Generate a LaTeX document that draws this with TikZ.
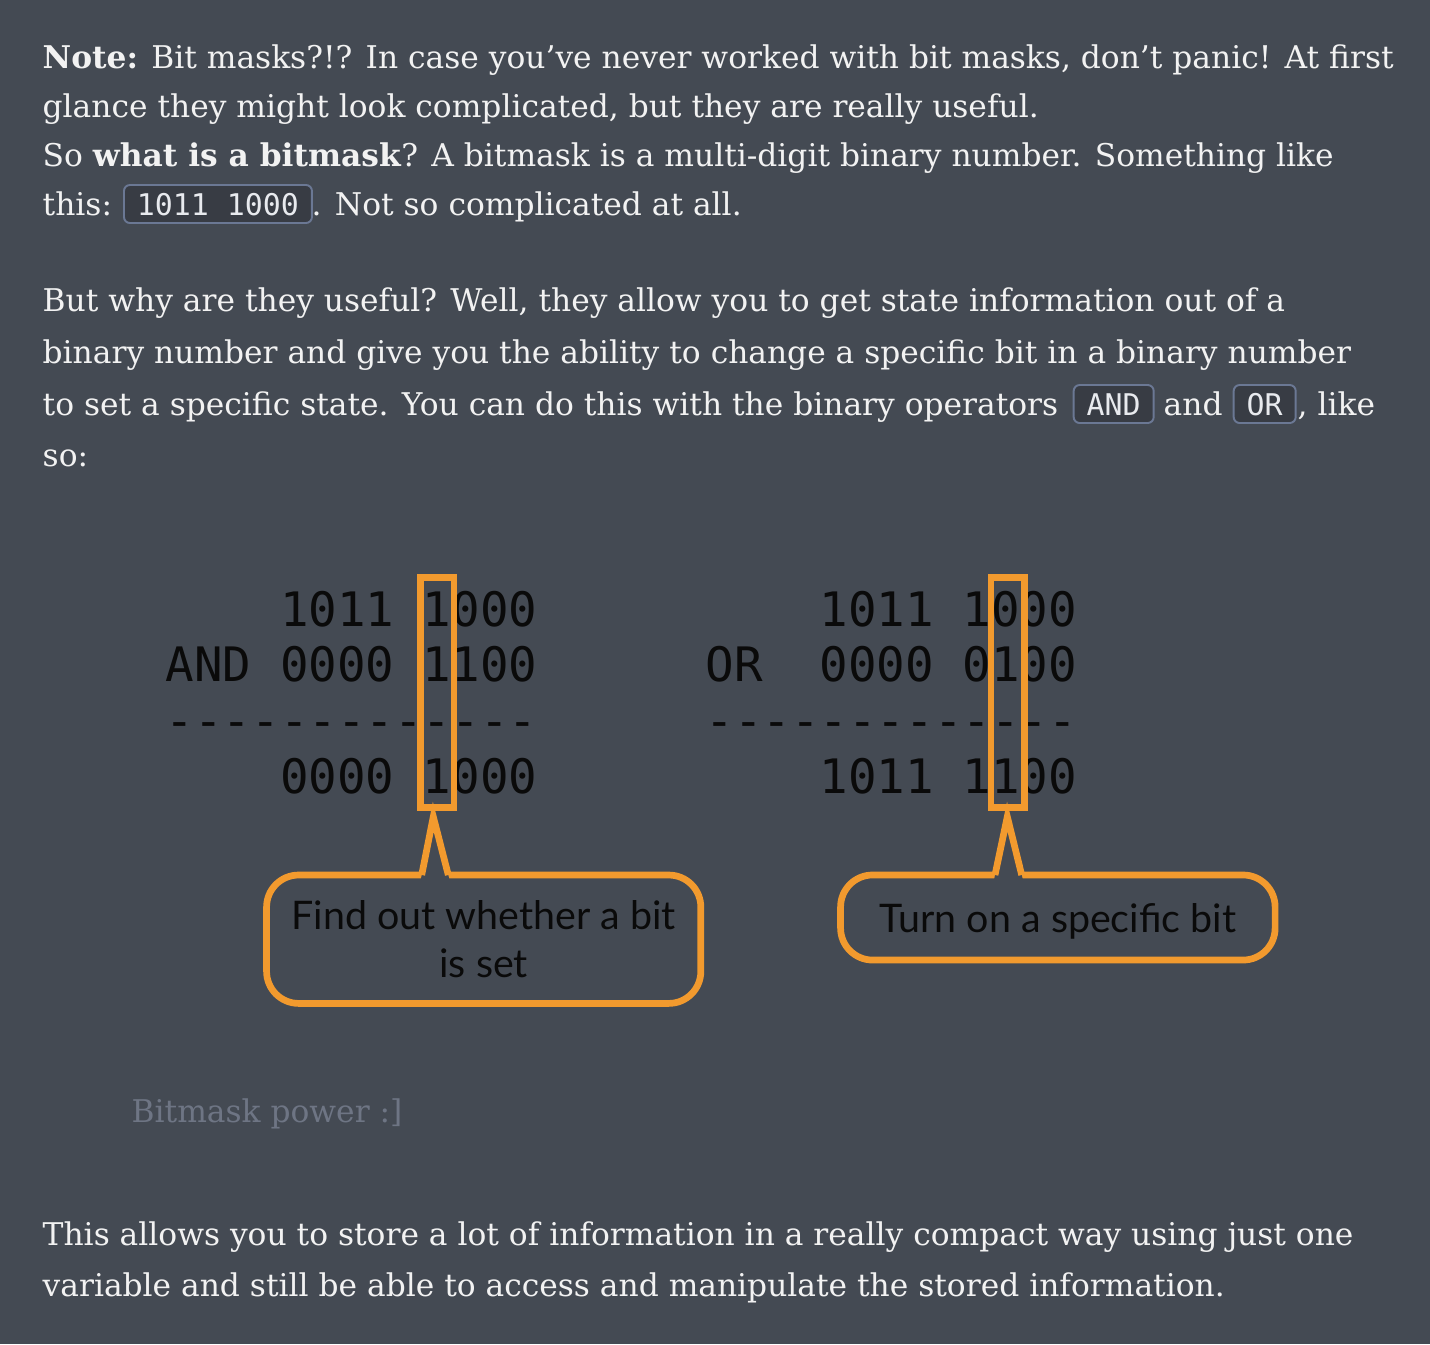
\documentclass[tikz,border=0pt]{standalone}
\usepackage{fontspec}
\setmainfont{DejaVu Serif}
\setmonofont{DejaVu Sans Mono}
\newfontfamily\calloutfont{Lato}

\definecolor{pagebg}{HTML}{444A53}
\definecolor{bodytext}{HTML}{F2F2F2}
\definecolor{codefill}{HTML}{383C44}
\definecolor{codeline}{HTML}{6B7894}
\definecolor{codetext}{HTML}{E8EAEE}
\definecolor{captext}{HTML}{6E7584}
\definecolor{marker}{HTML}{F29A2E}
\definecolor{ink}{HTML}{0A0A0A}

\tikzset{
  body/.style={anchor=base west, inner sep=0pt, text=bodytext, font=\fontsize{8.9}{10}\selectfont},
  code/.style={anchor=base west, draw=codeline, fill=codefill, rounded corners=0.06cm, line width=0.55pt,
    inner xsep=0.13cm, inner ysep=0pt, text height=0.22cm, text depth=0pt, minimum height=0.38cm,
    text=codetext, font=\ttfamily\fontsize{8.5}{10}\selectfont},
  bits/.style={anchor=base east, inner sep=0pt, text=ink, font=\ttfamily\fontsize{13.5}{16}\selectfont},
  hl/.style={draw=marker, line width=0.067cm},
  bitbox/.style={hl, inner sep=0pt, minimum width=0.333cm, minimum height=2.30cm},
  bubble/.style={hl, rectangle, rounded corners=0.32cm, align=center, inner sep=0pt,
    text=ink, font=\calloutfont\fontsize{11.2}{13.77}\selectfont},
}

\begin{document}
\begin{tikzpicture}[x=0.01cm, y=-0.01cm]

\useasboundingbox (0,0) rectangle (1430,1344);
\fill[pagebg] (0,0) rectangle (1430,1344);

% note
\node[body] (noteA) at (42,68.3) {\textbf{Note:} Bit masks?!? In case you’ve never worked with bit masks, don’t panic! At first};
\node[body] (noteB) at (42,117.2) {glance they might look complicated, but they are really useful.};
\node[body] (noteC) at (42,166.1) {So \textbf{what is a bitmask}? A bitmask is a multi-digit binary number. Something like};
\node[body] (noteD) at (42,215) {this:};
\node[code] (codeBits) at (123,215) {1011 1000};
\node[body] (noteE) at (311,215) {. Not so complicated at all.};

% why
\node[body] (whyA) at (42,311.7) {But why are they useful? Well, they allow you to get state information out of a};
\node[body] (whyB) at (42,363.2) {binary number and give you the ability to change a specific bit in a binary number};
\node[body] (whyC) at (42,415) {to set a specific state. You can do this with the binary operators};
\node[code] (codeAnd) at (1072.7,415) {AND};
\node[body] (whyAnd) at (1163,415) {and};
\node[code] (codeOr) at (1232.7,415) {OR};
\node[body] (whyLike) at (1297,415) {, like};
\node[body] (whyD) at (42,466.7) {so:};

\begin{scope}
  % AND
  \node[bits] (andTop) at (538,626.7) {1011 1000};
  \node[bits] (andMask) at (538,681.7) {AND 0000 1100};
  \node[bits] (andRule) at (538,737) {-------------};
  \node[bits] (andResult) at (538,793) {0000 1000};

  \node[bitbox] (andBit) at (437.35,692.3) {};
  \node[bubble, minimum width=4.34cm, minimum height=1.283cm] (findBit) at (483.7,939.2) {Find out whether a bit\\is set};

  \coordinate (andTip) at (433.3,816.7);
  \fill[pagebg] (420.9,879) -- (andTip) -- (449.3,879) -- cycle;
  \draw[hl, line join=miter] (421.7,875) -- (andTip) -- (448.3,875);
\end{scope}

\begin{scope}
  % OR
  \node[bits] (orTop) at (1077.7,626.7) {1011 1000};
  \node[bits] (orMask) at (1077.7,681.7) {OR\ \ 0000 0100};
  \node[bits] (orRule) at (1077.7,737) {-------------};
  \node[bits] (orResult) at (1077.7,793) {1011 1100};

  \node[bitbox] (orBit) at (1007.7,692.3) {};
  \node[bubble, text depth=0pt, minimum width=4.343cm, minimum height=0.85cm] (onBit) at (1057.85,917.5) {Turn on a specific bit};

  \coordinate (orTip) at (1007.3,816.7);
  \fill[pagebg] (994.2,879) -- (orTip) -- (1022.7,879) -- cycle;
  \draw[hl, line join=miter] (995,875) -- (orTip) -- (1021.7,875);
\end{scope}

\node[body, text=captext] (caption) at (131,1122) {Bitmask power :]};

% outro
\node[body] (outroA) at (42,1245) {This allows you to store a lot of information in a really compact way using just one};
\node[body] (outroB) at (42,1296.7) {variable and still be able to access and manipulate the stored information.};

\end{tikzpicture}
\end{document}
